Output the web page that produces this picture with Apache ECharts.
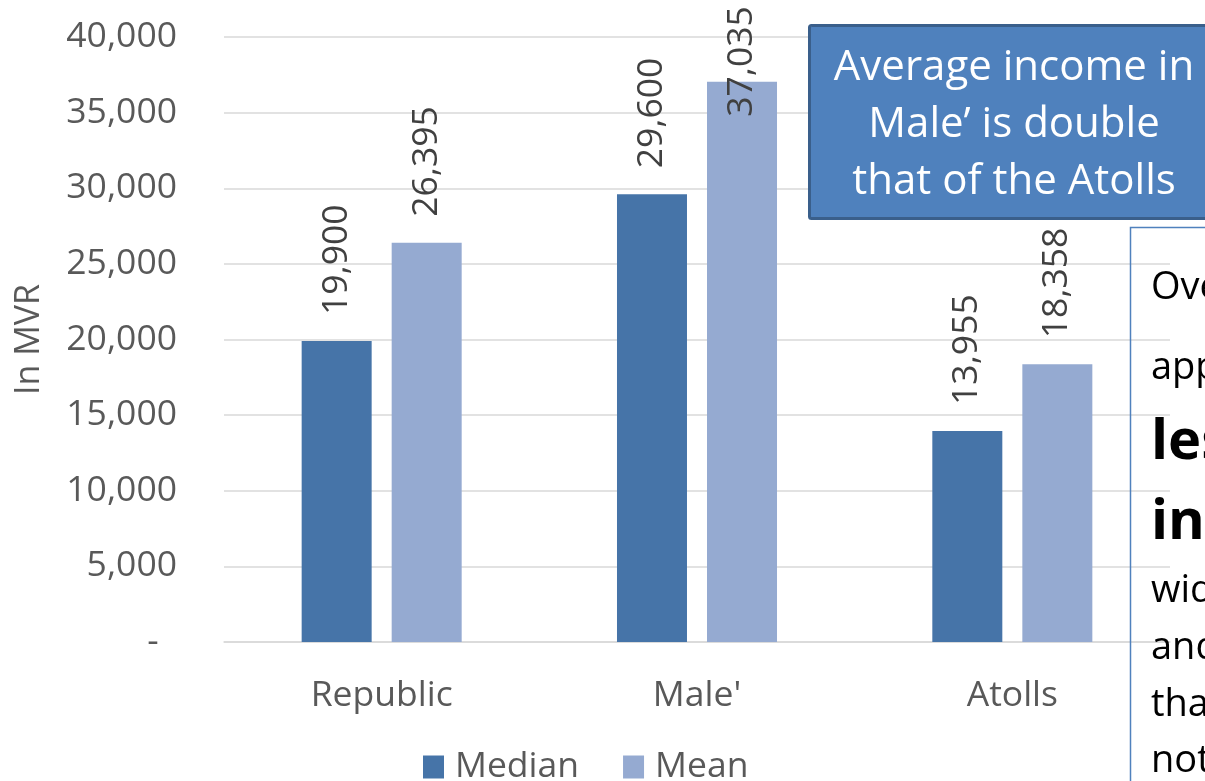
<!DOCTYPE html>
<html>
<head>
<meta charset="utf-8">
<script src="https://cdn.jsdelivr.net/npm/echarts@6/dist/echarts.min.js"></script>
<style>
html,body{margin:0;padding:0;background:#fff;}
#chart{width:1205px;height:781px;}
</style>
</head>
<body>
<div id="chart"></div>
<script>
const categories = ["Republic", "Male'", "Atolls"];
const medianValues = [19900, 29600, 13955];
const meanValues = [26395, 37035, 18358];
const seriesNames = ["Median", "Mean"];
const yAxisName = "In MVR";
const calloutText = ["Average income in", "Male’ is double", "that of the Atolls"];
const sideNoteLines = [
  {t: "Overall, Male'", b: false},
  {t: "appears to have", b: false},
  {t: "less", b: true},
  {t: "income", b: true},
  {t: "wide gaps", b: false},
  {t: "and higher", b: false},
  {t: "than Atolls", b: false},
  {t: "not only", b: false}
];

const FONT = "'Open Sans', 'Noto Sans', sans-serif";
const FS = 35.5;
const chart = echarts.init(document.getElementById('chart'));

const baselines = [300, 380, 460, 540, 603, 660, 717, 773];
const graphics = [];
graphics.push({
  type: 'rect', z: 10,
  shape: {x: 1130.5, y: 227.5, width: 200, height: 600},
  style: {fill: 'none', stroke: '#4f81bd', lineWidth: 1.5}
});
sideNoteLines.forEach((ln, i) => {
  const fs = ln.b ? 56 : 38;
  graphics.push({
    type: 'text', z: 11,
    x: 1151, y: baselines[i] - fs * 0.3,
    style: {
      text: ln.t, fill: '#000', font: (ln.b ? 'bold ' : '') + fs + 'px ' + FONT,
      textAlign: 'left', textVerticalAlign: 'middle'
    }
  });
});
graphics.push({
  type: 'rect', z: 10,
  shape: {x: 809.5, y: 25.5, width: 420, height: 193, r: 2},
  style: {fill: '#4f81bd', stroke: '#3a5f8b', lineWidth: 3}
});
graphics.push({
  type: 'text', z: 11,
  x: 1014, y: 125,
  style: {
    text: calloutText.join('\n'), fill: '#fff', font: '42px ' + FONT,
    lineHeight: 57, textAlign: 'center', textVerticalAlign: 'middle'
  }
});

const labelCfg = {
  show: true, position: 'top', rotate: 90, distance: 26,
  align: 'left', verticalAlign: 'middle',
  color: '#404040', fontSize: FS, fontFamily: FONT,
  formatter: p => p.value.toLocaleString('en-US')
};

// the tallest label is pulled down into its bar so it stays inside the chart
const meanData = meanValues.map((v, i) => i === 1 ? {value: v, label: {offset: [-61, 0]}} : v);

chart.setOption({
  animation: false,
  grid: {left: 224, right: 35, top: 37, bottom: 139},
  legend: {
    data: seriesNames, left: 418, top: 744,
    itemWidth: 21, itemHeight: 23, itemGap: 44, icon: 'rect',
    textStyle: {fontSize: FS, color: '#595959', fontFamily: FONT, padding: [0, 0, 0, 6]}
  },
  xAxis: {
    type: 'category', data: categories,
    axisTick: {show: false},
    axisLine: {lineStyle: {color: '#d9d9d9', width: 1.5}},
    axisLabel: {fontSize: FS, color: '#595959', fontFamily: FONT, margin: 36}
  },
  yAxis: {
    type: 'value', min: 0, max: 40000, interval: 5000,
    name: yAxisName, nameLocation: 'middle', nameGap: 178, nameRotate: 90,
    nameTextStyle: {fontSize: 34, color: '#595959', fontFamily: FONT},
    axisLine: {show: false}, axisTick: {show: false},
    splitLine: {lineStyle: {color: '#d9d9d9', width: 1.5}},
    axisLabel: {
      fontSize: FS, color: '#595959', fontFamily: FONT, margin: 47,
      formatter: v => v === 0 ? '-  ' : v.toLocaleString('en-US')
    }
  },
  series: [
    {name: seriesNames[0], type: 'bar', data: medianValues, barWidth: 70, barGap: '28.6%',
     itemStyle: {color: '#4674a8'}, label: labelCfg},
    {name: seriesNames[1], type: 'bar', data: meanData, barWidth: 70, barGap: '28.6%',
     itemStyle: {color: '#95aad1'}, label: labelCfg}
  ],
  graphic: graphics
});
</script>
</body>
</html>
